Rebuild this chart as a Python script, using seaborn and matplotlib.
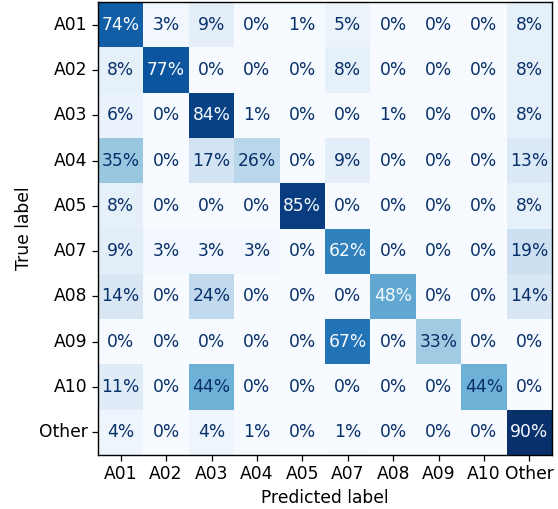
import numpy as np
import pandas as pd
import matplotlib
matplotlib.use("Agg")
import matplotlib.pyplot as plt
import seaborn as sns

labels = ["A01", "A02", "A03", "A04", "A05", "A07", "A08", "A09", "A10", "Other"]

row_a01 = [74, 3, 9, 0, 1, 5, 0, 0, 0, 8]
row_a02 = [8, 77, 0, 0, 0, 8, 0, 0, 0, 8]
row_a03 = [6, 0, 84, 1, 0, 0, 1, 0, 0, 8]
row_a04 = [35, 0, 17, 26, 0, 9, 0, 0, 0, 13]
row_a05 = [8, 0, 0, 0, 85, 0, 0, 0, 0, 8]
row_a07 = [9, 3, 3, 3, 0, 62, 0, 0, 0, 19]
row_a08 = [14, 0, 24, 0, 0, 0, 48, 0, 0, 14]
row_a09 = [0, 0, 0, 0, 0, 67, 0, 33, 0, 0]
row_a10 = [11, 0, 44, 0, 0, 0, 0, 0, 44, 0]
row_other = [4, 0, 4, 1, 0, 1, 0, 0, 0, 90]

cm = pd.DataFrame([row_a01, row_a02, row_a03, row_a04, row_a05,
                   row_a07, row_a08, row_a09, row_a10, row_other],
                  index=labels, columns=labels)

fig = plt.figure(figsize=(5.58, 5.09), dpi=100)
# axes box: x 98..552 px, y 2..455 px
ax = fig.add_axes([98 / 558, 54 / 509, 454 / 558, 453 / 509])

fs = 12.3
cmap = plt.get_cmap("Blues")
vmax = cm.values.max()
annot = cm.map(lambda v: f"{v}%")
sns.heatmap(cm, annot=annot, fmt="", cmap=cmap, vmin=0, vmax=vmax,
            cbar=False, square=False, ax=ax, annot_kws={"fontsize": fs})

# text colour like sklearn: light on dark cells
thresh = vmax / 2
for t, v in zip(ax.texts, cm.values.flatten()):
    t.set_color(cmap(0.0) if v > thresh else cmap(1.0))

for s in ax.spines.values():
    s.set_visible(True)
    s.set_color("black")
    s.set_linewidth(1.0)

ax.tick_params(axis="both", labelsize=fs, length=4, width=0.9)
ax.set_yticklabels(labels, rotation=0)
ax.set_xticklabels(labels, rotation=0)
ax.set_xlabel("Predicted label", fontsize=fs)
ax.set_ylabel("True label", fontsize=fs)

fig.savefig("out.png", dpi=100)
